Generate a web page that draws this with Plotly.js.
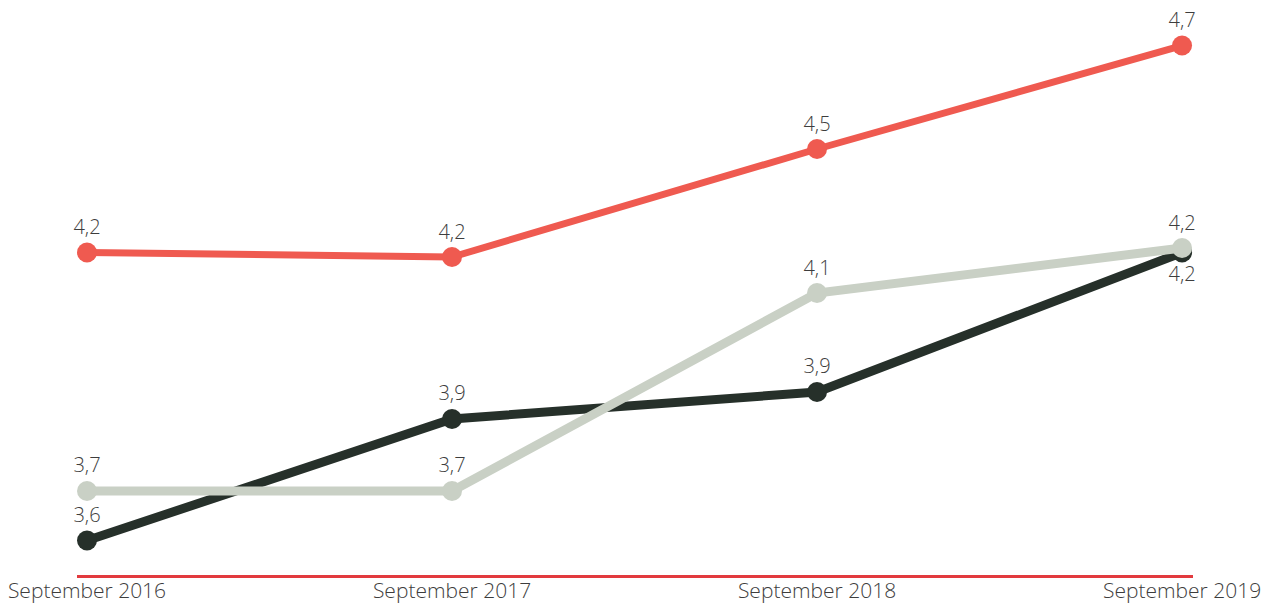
<!DOCTYPE html>
<html>
<head>
<meta charset="utf-8">
<script src="https://cdn.plot.ly/plotly-3.0.1.min.js"></script>
<style>html,body{margin:0;padding:0;background:#fff;}#chart{width:1285px;height:603px;}</style>
</head>
<body>
<div id="chart"></div>
<script>
const categories = ["September 2016", "September 2017", "September 2018", "September 2019"];
const redValues = [4.23, 4.22, 4.46, 4.69];
const darkValues = [3.59, 3.86, 3.92, 4.23];
const lightValues = [3.70, 3.70, 4.14, 4.24];

function fmt(v) { return v.toFixed(1).replace('.', ','); }

const labelFont = {family: "Open Sans", size: 20, color: "#3d3d3d", weight: 300};

const traces = [
  {
    x: categories, y: lightValues, type: "scatter", mode: "lines+markers+text",
    line: {color: "#C9D0C5", width: 9},
    marker: {color: "#C9D0C5", size: 20},
    text: lightValues.map(fmt), textposition: "top center", textfont: labelFont,
    hoverinfo: "skip", cliponaxis: false
  },
  {
    x: categories, y: darkValues, type: "scatter", mode: "lines+markers+text",
    line: {color: "#26302A", width: 9},
    marker: {color: "#26302A", size: 20},
    text: darkValues.map(fmt),
    textposition: ["top center", "top center", "top center", "bottom center"],
    textfont: labelFont, hoverinfo: "skip", cliponaxis: false
  },
  {
    x: categories, y: redValues, type: "scatter", mode: "lines+markers+text",
    line: {color: "#EF5A50", width: 7},
    marker: {color: "#EF5A50", size: 20},
    text: redValues.map(fmt), textposition: "top center", textfont: labelFont,
    hoverinfo: "skip", cliponaxis: false
  }
];

const ordered = [traces[1], traces[0], traces[2]];

const layout = {
  width: 1285, height: 603,
  margin: {l: 77, r: 92, t: 20, b: 28},
  paper_bgcolor: "#ffffff", plot_bgcolor: "#ffffff",
  showlegend: false,
  xaxis: {
    type: "category", range: [-0.0274, 3.030],
    showgrid: false, zeroline: false,
    showline: true, linecolor: "#E23A3E", linewidth: 3,
    ticks: "", ticklabelstandoff: -5,
    tickfont: {family: "Open Sans", size: 21, color: "#3d3d3d", weight: 300},
    fixedrange: true
  },
  yaxis: {
    range: [3.5133, 4.7467],
    showgrid: false, zeroline: false, showline: false,
    showticklabels: false, ticks: "", fixedrange: true
  }
};

Plotly.newPlot("chart", ordered, layout, {displayModeBar: false, staticPlot: true});
</script>
</body>
</html>
